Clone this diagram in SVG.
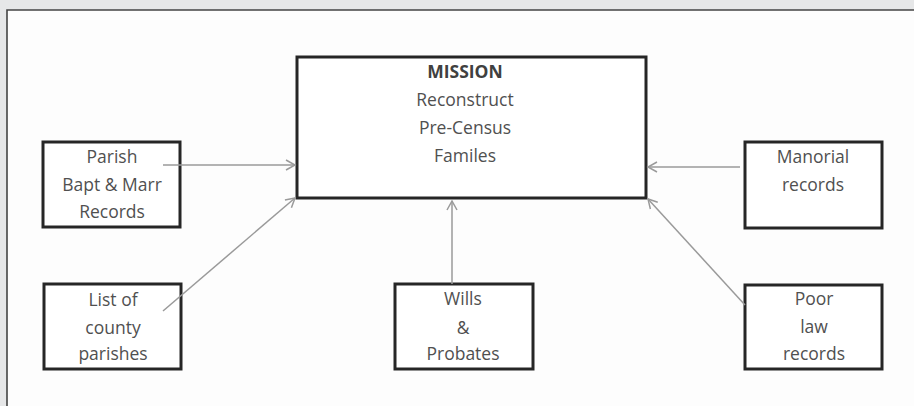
<svg xmlns="http://www.w3.org/2000/svg" width="914" height="406" viewBox="0 0 914 406">
<defs>
<style>
.box{fill:#fff;stroke:#262626;stroke-width:3}
.t{font-family:"Open Sans","Liberation Sans",sans-serif;font-size:17.5px;fill:#505050;text-anchor:middle}
.b{font-weight:bold;fill:#404040}
.c{stroke:#9a9a9a;stroke-width:1.5;fill:none;marker-end:url(#ah)}
</style>
<marker id="ah" markerWidth="12" markerHeight="12" refX="10" refY="6" orient="auto" markerUnits="userSpaceOnUse">
<path d="M1,1 L10,6 L1,11" fill="none" stroke="#9a9a9a" stroke-width="1.5"/>
</marker>
</defs>
<rect x="0" y="0" width="914" height="406" fill="#e6e7e8"/>
<rect x="7" y="10" width="907" height="396" fill="#fdfdfd"/>
<path d="M7,406 L7,10 L914,10" fill="none" stroke="#444" stroke-width="1.6"/>

<g id="mission">
<rect class="box" x="297" y="57" width="349" height="141"/>
<text class="t b" x="465" y="78">MISSION</text>
<text class="t" x="465" y="106">Reconstruct</text>
<text class="t" x="465" y="134">Pre-Census</text>
<text class="t" x="465" y="162">Familes</text>
</g>

<g id="parish">
<rect class="box" x="43" y="142" width="137" height="85"/>
<text class="t" x="112" y="163">Parish</text>
<text class="t" x="112" y="191">Bapt &amp; Marr</text>
<text class="t" x="112" y="218">Records</text>
</g>

<g id="county">
<rect class="box" x="44" y="284" width="137" height="85"/>
<text class="t" x="113" y="306">List of</text>
<text class="t" x="113" y="334">county</text>
<text class="t" x="113" y="360">parishes</text>
</g>

<g id="wills">
<rect class="box" x="395" y="284" width="138" height="85"/>
<text class="t" x="463" y="305">Wills</text>
<text class="t" x="463" y="334">&amp;</text>
<text class="t" x="463" y="360">Probates</text>
</g>

<g id="manorial">
<rect class="box" x="745" y="142" width="137" height="86"/>
<text class="t" x="813" y="163">Manorial</text>
<text class="t" x="813" y="191">records</text>
</g>

<g id="poorlaw">
<rect class="box" x="745" y="285" width="137" height="84"/>
<text class="t" x="814" y="305">Poor</text>
<text class="t" x="814" y="333">law</text>
<text class="t" x="814" y="360">records</text>
</g>

<g id="connectors">
<line class="c" x1="163" y1="165" x2="295" y2="165"/>
<line class="c" x1="163" y1="311" x2="295" y2="198"/>
<line class="c" x1="452" y1="284" x2="452" y2="201"/>
<line class="c" x1="740" y1="167" x2="648" y2="167"/>
<line class="c" x1="745" y1="305" x2="648" y2="199"/>
</g>
</svg>
